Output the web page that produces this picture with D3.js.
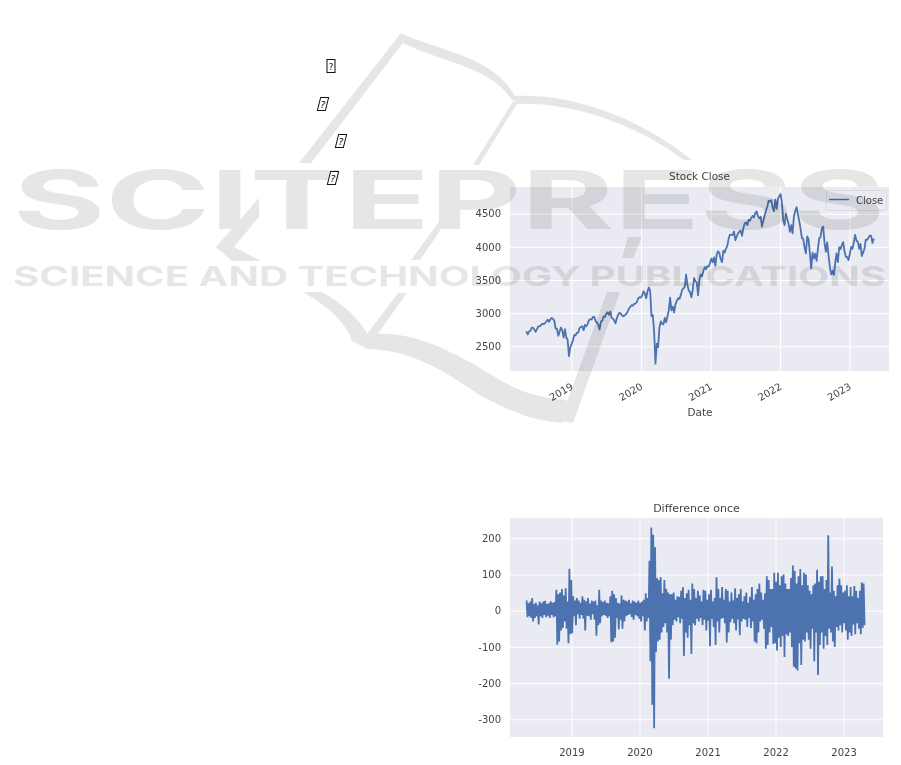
<!DOCTYPE html>
<html><head><meta charset="utf-8">
<script src="https://cdn.jsdelivr.net/npm/d3@7"></script>
<style>
html,body{margin:0;padding:0;background:#fff;overflow:hidden}
svg{display:block;filter:blur(0.5px)}
text{font-family:"DejaVu Sans",sans-serif;fill:#444}
</style></head><body>
<svg id="c" width="901" height="765"></svg>
<script>
const close2018=[2727,2680,2721,2734,2779,2780,2754,2718,2759,2801,2802,2818,2840,2833,2850,2874,2901,2871,2904,2929,2913,2885,2767,2767,2658,2723,2781,2736,2632,2760,2633,2599,2351,2485];
const close2019=[2531,2596,2670,2664,2706,2707,2775,2792,2803,2743,2822,2800,2834,2892,2907,2905,2939,2945,2881,2859,2826,2752,2873,2886,2950,2941,2990,3013,2976,3025,2932,2918,2888,2847,2926,2978,3007,2992,2961,2952,2970,2986,3022,3066,3093,3120,3110,3140,3145,3168,3221,3240];
const close2020=[3234,3265,3329,3295,3225,3327,3386,3337,2954,2972,2711,2237,2541,2488,2789,2874,2836,2830,2929,2863,2955,3044,3232,3041,3097,3009,3130,3185,3224,3215,3271,3351,3372,3397,3580,3426,3340,3319,3240,3348,3530,3483,3465,3269,3509,3585,3557,3638,3699,3663,3709,3703,3756];
const close2021=[3824,3768,3841,3714,3886,3934,3906,3811,3768,3943,3913,3974,4019,4128,4185,4180,4181,4232,4100,4155,4204,4229,4247,4166,4280,4352,4369,4327,4411,4395,4436,4468,4441,4509,4535,4458,4432,4455,4307,4391,4471,4544,4605,4697,4682,4704,4594,4538,4712,4568,4725,4766];
const close2022=[4796,4662,4397,4326,4500,4418,4348,4225,4328,4204,4463,4543,4600,4488,4392,4271,4132,4123,3990,3901,4158,4108,3900,3674,3911,3825,3899,3790,3961,4130,4145,4280,4305,4057,3924,4067,3873,3693,3585,3639,3577,3752,3901,3770,3992,3965,4026,4071,3934,3852,3844,3800];
const close2023=[3895,3999,3972,4070,4180,4090,4079,3970,4045,3861,3916,3970,4109,4105,4137,4170,4169,4060,4124];
const closeValues=close2018.concat(close2019,close2020,close2021,close2022,close2023);
const closeStart="2018-05-08";

// Per ten days: the top and the bottom of each swing of "Difference once"
const diffHigh=[28,20,25,35,18,22,15,25,20,25,27,18,20,26,22,24,58,45,50,60,42,62,25,116,
85,40,28,35,28,22,40,30,25,35,20,28,25,28,15,58,28,24,28,22,20,40,55,45,35,22,20,42,30,28,25,30,20,28,25,22,
28,22,25,30,48,35,138,230,210,175,90,85,92,48,85,60,50,45,45,50,30,40,38,55,65,35,48,58,30,75,60,35,55,42,25,58,
55,30,45,58,25,35,92,60,35,65,30,60,55,25,50,28,62,35,45,60,25,40,50,22,38,65,30,45,60,75,50,30,48,95,85,60,
60,105,80,105,70,95,100,75,60,60,90,125,110,75,95,115,70,105,100,70,55,45,70,75,113,80,95,95,60,85,208,50,122,55,40,70,
88,70,50,55,70,40,65,40,68,55,35,55,78,75];
const diffLow=[-18,-15,-20,-30,-20,-15,-38,-15,-20,-12,-18,-14,-20,-12,-18,-15,-94,-85,-55,-48,-30,-50,-90,-65,
-62,-15,-40,-10,-22,-12,-22,-55,-14,-15,-25,-10,-25,-69,-40,-35,-15,-12,-14,-20,-15,-87,-85,-75,-20,-52,-25,-50,-30,-15,-12,-10,-18,-25,-12,-15,
-22,-30,-15,-55,-30,-20,-140,-260,-325,-115,-85,-80,-60,-45,-35,-60,-188,-80,-40,-25,-30,-18,-35,-22,-125,-60,-75,-40,-120,-35,-40,-22,-30,-20,-40,-25,
-55,-28,-98,-22,-45,-95,-30,-60,-22,-20,-35,-88,-60,-32,-22,-35,-55,-24,-68,-30,-22,-25,-45,-20,-48,-30,-85,-90,-60,-30,-25,-50,-105,-95,-60,-45,
-92,-90,-110,-75,-100,-70,-128,-65,-70,-60,-100,-155,-160,-165,-90,-150,-80,-85,-60,-80,-105,-50,-140,-60,-178,-95,-60,-105,-70,-95,-50,-60,-85,-100,-45,-55,
-40,-60,-35,-55,-80,-60,-70,-38,-65,-35,-50,-65,-48,-40];
const diffStart="2018-05-05";

const yearTicks=["2019","2020","2021","2022","2023"];
const closeTicks=[2500,3000,3500,4000,4500];
const diffTicks=[-300,-200,-100,0,100,200];

// Placeholder boxes in the page's left column
const glyphX=[331,323,341,333];
const glyphY=[66,104,141,178];
const glyphSkew=[0,-14,-14,-14];

// Publisher watermark
const wmTitle="SCITEPRESS";
const wmSub="SCIENCE AND TECHNOLOGY PUBLICATIONS";

const parse=d3.timeParse("%Y-%m-%d");
const yearDate=y=>parse(y+"-01-01");
const svg=d3.select("#c");
const BG="#EAEAF2",LINE="#4C72B0",INK="#444";

function panel(o){
  const g=svg.append("g");
  const x=d3.scaleTime().domain(o.xDomain.map(parse)).range([o.l,o.r]);
  const y=d3.scaleLinear().domain(o.yDomain).range([o.b,o.t]);
  g.append("rect").attr("x",o.l).attr("y",o.t).attr("width",o.r-o.l).attr("height",o.b-o.t).attr("fill",BG);
  const ax=g.append("g").attr("transform",`translate(0,${o.b})`)
    .call(d3.axisBottom(x).tickValues(yearTicks.map(yearDate)).tickFormat(d3.timeFormat("%Y")).tickSize(-(o.b-o.t)).tickPadding(12));
  const ay=g.append("g").attr("transform",`translate(${o.l},0)`)
    .call(d3.axisLeft(y).tickValues(o.yTicks).tickFormat(v=>String(v)).tickSize(-(o.r-o.l)).tickPadding(9));
  [ax,ay].forEach(a=>{a.select(".domain").remove();a.selectAll("line").attr("stroke","#fff").attr("stroke-width",1);
    a.selectAll("text").attr("font-size",10).style("font-family",'"DejaVu Sans",sans-serif').attr("fill",INK);});
  return {g,x,y,ax,ay};
}

// --- Stock Close
const upper=panel({l:510,r:889,t:187,b:371,xDomain:["2018-02-11","2023-07-28"],yDomain:[2127,4903],yTicks:closeTicks});
upper.ax.selectAll("text").attr("text-anchor","end").attr("dy",0).attr("y",0).attr("transform","translate(2,17.5) rotate(-30)");
const t0=parse(closeStart);
const closeSeries=closeValues.map((v,i)=>[d3.timeDay.offset(t0,7*i),v]);
upper.g.append("path").datum(closeSeries).attr("fill","none").attr("stroke",LINE).attr("stroke-width",1.8).attr("stroke-linejoin","round")
  .attr("d",d3.line().x(d=>upper.x(d[0])).y(d=>upper.y(d[1])));
upper.g.append("text").attr("x",699.5).attr("y",180).attr("text-anchor","middle").attr("font-size",10.5).text("Stock Close");
upper.g.append("text").attr("x",700).attr("y",416).attr("text-anchor","middle").attr("font-size",10.5).text("Date");
const lg=upper.g.append("g");
lg.append("rect").attr("x",826.5).attr("y",190.5).attr("width",60).attr("height",20).attr("rx",2)
  .attr("fill",BG).attr("fill-opacity",.8).attr("stroke","#d4d4dc").attr("stroke-width",.8);
lg.append("line").attr("x1",829).attr("x2",849).attr("y1",199.5).attr("y2",199.5).attr("stroke",LINE).attr("stroke-width",1.5);
lg.append("text").attr("x",856).attr("y",203.5).attr("font-size",10).text("Close");

// --- Difference once
const lower=panel({l:510,r:883,t:518,b:737,xDomain:["2018-02-05","2023-08-01"],yDomain:[-349,256],yTicks:diffTicks});
const d0=parse(diffStart);
const diffSeries=[];
diffHigh.forEach((v,i)=>{
  diffSeries.push([d3.timeDay.offset(d0,10*i),v]);
  diffSeries.push([d3.timeDay.offset(d0,10*i+5),diffLow[i]]);
});
lower.g.append("path").datum(diffSeries).attr("fill","none").attr("stroke",LINE).attr("stroke-width",1.8)
  .attr("d",d3.line().x(d=>lower.x(d[0])).y(d=>lower.y(d[1])));
lower.g.append("text").attr("x",696.5).attr("y",512).attr("text-anchor","middle").attr("font-size",11).text("Difference once");

// --- Watermark
const WMFONT='Inter,"Liberation Sans",sans-serif', WMFILL="#e5e7e6";
const wm=svg.append("g").style("mix-blend-mode","multiply").attr("fill",WMFILL);
wm.append("text").attr("x",13).attr("y",229).attr("font-size",81).attr("font-weight",700)
  .attr("textLength",872).attr("lengthAdjust","spacingAndGlyphs")
  .style("font-family",WMFONT).style("fill",WMFILL).text(wmTitle);
wm.append("text").attr("x",13).attr("y",286).attr("font-size",27).attr("font-weight",700)
  .attr("textLength",873).attr("lengthAdjust","spacingAndGlyphs")
  .style("font-family",WMFONT).style("fill",WMFILL).text(wmSub);
const bookBands=[
 "M401,33 L299,163 L311,163 L403,43 Z",
 "M401,33 C440,52 495,55 517,100 L512,100 C490,66 440,62 403,43 Z",
 "M514,96 C560,93 630,110 692,160 L684,160 C630,120 565,102 517,104 Z",
 "M514,100 L518,102 L479,165 L473,165 Z",
 "M259,198 L259,217 L234,247 L261,261 L232,261 L216,247 Z",
 "M443,216 L450,216 L420,260 L411,260 Z",
 "M398,293 L407,293 L372,342 L364,338 Z",
 "M303,292 L322,292 C345,305 360,320 368,335 C410,328 455,352 500,380 C520,392 540,398 567,400 L563,423 C530,421 505,408 483,397 C455,380 420,350 367,349 L352,341 C345,320 325,305 303,292 Z",
 "M607,292 L620,292 L573,423 L560,421 Z",
 "M628,237 L642,237 L633,258 L622,258 Z"
];
wm.selectAll("path.b").data(bookBands).join("path").attr("class","b").attr("d",d=>d);

// --- Missing-glyph boxes
const gl=svg.append("g");
glyphX.forEach((gx,i)=>{
  const b=gl.append("g").attr("transform",`translate(${gx},${glyphY[i]}) skewX(${glyphSkew[i]})`);
  b.append("rect").attr("x",-4).attr("y",-6.5).attr("width",8).attr("height",13).attr("fill","#fff").attr("stroke","#111").attr("stroke-width",1);
  b.append("text").attr("x",0).attr("y",3.5).attr("text-anchor","middle").attr("font-size",9.5).style("fill","#111").text("?");
});
</script></body></html>
